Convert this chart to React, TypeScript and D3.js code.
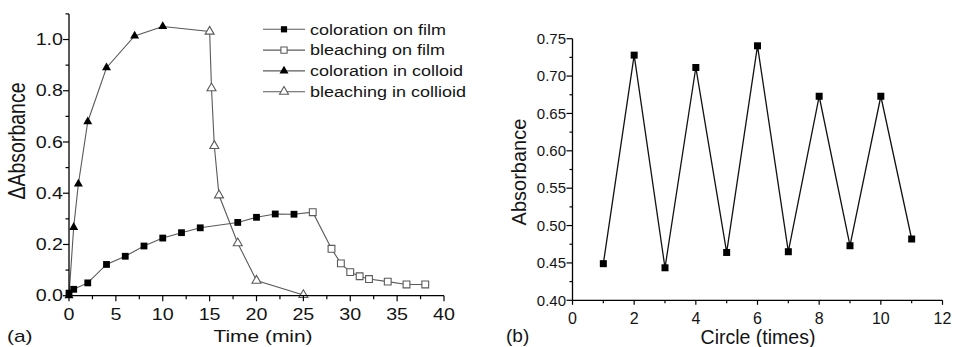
import React from "react";
import * as d3 from "d3";

// ---------- Data (panel a) ----------
const filmColorT = [0, 0.5, 2, 4, 6, 8, 10, 12, 14, 18, 20, 22, 24];
const filmColorA = [0.01, 0.025, 0.05, 0.122, 0.154, 0.194, 0.225, 0.246, 0.265, 0.286, 0.306, 0.319, 0.318];
const filmBleachT = [26, 28, 29, 30, 31, 32, 34, 36, 38];
const filmBleachA = [0.326, 0.183, 0.126, 0.092, 0.076, 0.065, 0.055, 0.044, 0.044];
const colloidColorT = [0, 0.5, 1, 2, 4, 7, 10];
const colloidColorA = [0, 0.267, 0.436, 0.679, 0.89, 1.014, 1.051];
const colloidBleachT = [15, 15.2, 15.5, 16, 18, 20, 25];
const colloidBleachA = [1.031, 0.81, 0.585, 0.392, 0.205, 0.059, 0.003];
const legendLabels = ["coloration on film", "bleaching on film", "coloration in colloid", "bleaching in collioid"];
const aXTicks = [0, 5, 10, 15, 20, 25, 30, 35, 40];
const aYTicks = [0.0, 0.2, 0.4, 0.6, 0.8, 1.0];

// ---------- Data (panel b) ----------
const cycles = [1, 2, 3, 4, 5, 6, 7, 8, 9, 10, 11];
const absorb = [0.449, 0.728, 0.4435, 0.7115, 0.464, 0.7405, 0.465, 0.673, 0.473, 0.673, 0.482];
const bXTicks = [0, 2, 4, 6, 8, 10, 12];
const bYTicks = [0.4, 0.45, 0.5, 0.55, 0.6, 0.65, 0.7, 0.75];

const FONT = "'Liberation Sans', Arial, sans-serif";
const TXT = "#141414";
const GREY = "#5a5a5a";

type P = [number, number];
const zip = (a: number[], b: number[]): P[] => a.map((v, i) => [v, b[i]]);

function T(props: { x: number; y: number; sx?: number; size: number; anchor?: string; rotate?: number; children: React.ReactNode }) {
  const { x, y, sx = 1, size, anchor = "middle", rotate = 0, children } = props;
  const tr = rotate
    ? `translate(${x},${y}) rotate(${rotate}) scale(1,${sx})`
    : `translate(${x},${y}) scale(${sx},1)`;
  return (
    <text transform={tr} fontSize={size} fontFamily={FONT} fill={TXT} textAnchor={anchor}>
      {children}
    </text>
  );
}

const sq = (s: number) => d3.symbol(d3.symbolSquare, s * s)()!;
const tri = (side: number) => d3.symbol(d3.symbolTriangle, 0.433 * side * side)()!;

function PanelA() {
  const x = d3.scaleLinear().domain([0, 40]).range([69, 444]);
  const y = d3.scaleLinear().domain([0, 1.1]).range([295.7, 13.9]);
  const line = d3.line<P>().x((d) => x(d[0])).y((d) => y(d[1]));
  const sx = 1.23;

  const fc = zip(filmColorT, filmColorA);
  const fb = zip(filmBleachT, filmBleachA);
  const cc = zip(colloidColorT, colloidColorA);
  const cb = zip(colloidBleachT, colloidBleachA);

  const xMinor = d3.range(0, 40.01, 2.5);
  const yMinor = d3.range(0, 1.101, 0.1);

  const sqPath = sq(6.8);
  const triPath = tri(9);

  return (
    <g>
      {/* lines */}
      <path d={line(cc)!} fill="none" stroke={GREY} strokeWidth={1.1} />
      <path d={line([cc[cc.length - 1], ...cb])!} fill="none" stroke={GREY} strokeWidth={1.1} />
      <path d={line(fc)!} fill="none" stroke={GREY} strokeWidth={1.1} />
      <path d={line([fc[fc.length - 1], ...fb])!} fill="none" stroke={GREY} strokeWidth={1.1} />
      {/* markers */}
      {cc.map((d, i) => (
        <path key={"cc" + i} d={triPath} transform={`translate(${x(d[0])},${y(d[1])})`} fill="#000" />
      ))}
      {cb.map((d, i) => (
        <path key={"cb" + i} d={triPath} transform={`translate(${x(d[0])},${y(d[1])})`} fill="#fff" stroke={GREY} strokeWidth={1.1} />
      ))}
      {fc.map((d, i) => (
        <path key={"fc" + i} d={sqPath} transform={`translate(${x(d[0])},${y(d[1])})`} fill="#000" />
      ))}
      {fb.map((d, i) => (
        <path key={"fb" + i} d={sqPath} transform={`translate(${x(d[0])},${y(d[1])})`} fill="#fff" stroke={GREY} strokeWidth={1.1} />
      ))}
      {/* axes */}
      <line x1={x(0)} x2={x(40)} y1={y(0)} y2={y(0)} stroke="#000" strokeWidth={1.3} />
      <line x1={x(0)} x2={x(0)} y1={y(0)} y2={y(1.1)} stroke="#000" strokeWidth={1.3} />
      {xMinor.map((v) => {
        const major = aXTicks.some((t) => Math.abs(t - v) < 1e-6);
        return <line key={"xt" + v} x1={x(v)} x2={x(v)} y1={y(0)} y2={y(0) + (major ? 5.5 : 3.5)} stroke="#000" strokeWidth={1.2} />;
      })}
      {yMinor.map((v) => {
        const major = aYTicks.some((t) => Math.abs(t - v) < 1e-6);
        return <line key={"yt" + v} x1={x(0)} x2={x(0) - (major ? 6 : 3.5)} y1={y(v)} y2={y(v)} stroke="#000" strokeWidth={1.2} />;
      })}
      {aXTicks.map((v) => (
        <T key={"xl" + v} x={x(v)} y={320} size={16} sx={sx}>{String(v)}</T>
      ))}
      {aYTicks.map((v) => (
        <T key={"yl" + v} x={63} y={y(v) + 5.7} size={16} sx={sx} anchor="end">{v.toFixed(1)}</T>
      ))}
      <T x={263} y={342} size={17} sx={sx}>Time (min)</T>
      <T x={7} y={342} size={17} sx={sx} anchor="start">(a)</T>
      <T x={24.5} y={141} size={19.5} sx={1.2} rotate={-90}>ΔAbsorbance</T>
      {/* legend */}
      {legendLabels.map((lab, i) => {
        const ly = 29.3 + i * 20.8;
        const mark = i < 2 ? sq(6.2) : tri(9);
        const filled = i % 2 === 0;
        return (
          <g key={"lg" + i}>
            <line x1={263} x2={305} y1={ly} y2={ly} stroke={GREY} strokeWidth={1.1} />
            <path d={mark} transform={`translate(284,${ly})`} fill={filled ? "#000" : "#fff"} stroke={filled ? "none" : GREY} strokeWidth={1.1} />
            <T x={310} y={ly + 5.3} size={15} sx={1.2} anchor="start">{lab}</T>
          </g>
        );
      })}
    </g>
  );
}

function PanelB() {
  const x = d3.scaleLinear().domain([0, 12]).range([572.5, 942.5]);
  const y = d3.scaleLinear().domain([0.4, 0.75]).range([300.3, 38.7]);
  const line = d3.line<P>().x((d) => x(d[0])).y((d) => y(d[1]));
  const pts = zip(cycles, absorb);
  const xMinor = d3.range(0, 12.01, 1);
  const yMinor = d3.range(0.4, 0.7501, 0.025);
  const sqPath = sq(7);
  return (
    <g>
      <path d={line(pts)!} fill="none" stroke="#111" strokeWidth={1.3} />
      {pts.map((d, i) => (
        <path key={"b" + i} d={sqPath} transform={`translate(${x(d[0])},${y(d[1])})`} fill="#000" />
      ))}
      <line x1={x(0)} x2={x(12)} y1={y(0.4)} y2={y(0.4)} stroke="#000" strokeWidth={1.3} />
      <line x1={x(0)} x2={x(0)} y1={y(0.4)} y2={y(0.75)} stroke="#000" strokeWidth={1.3} />
      {xMinor.map((v) => {
        const major = bXTicks.includes(Math.round(v)) && Math.round(v) % 2 === 0;
        return <line key={"bx" + v} x1={x(v)} x2={x(v)} y1={y(0.4)} y2={y(0.4) + (major ? 4.5 : 3)} stroke="#000" strokeWidth={1.2} />;
      })}
      {yMinor.map((v, i) => (
        <line key={"by" + i} x1={x(0)} x2={x(0) - (i % 2 === 0 ? 6 : 3)} y1={y(v)} y2={y(v)} stroke="#000" strokeWidth={1.2} />
      ))}
      {bXTicks.map((v) => (
        <T key={"bxl" + v} x={x(v)} y={323.5} size={16}>{String(v)}</T>
      ))}
      {bYTicks.map((v) => (
        <T key={"byl" + v} x={566} y={y(v) + 5.3} size={15} anchor="end">{v.toFixed(2)}</T>
      ))}
      <T x={758} y={343.5} size={19.5}>Circle (times)</T>
      <T x={506} y={342} size={19} anchor="start">(b)</T>
      <T x={525.5} y={172} size={20} rotate={-90}>Absorbance</T>
    </g>
  );
}

export default function App() {
  return (
    <svg width={959} height={347} style={{ position: "absolute", left: 0, top: 0, background: "#fff" }}>
      <rect width={959} height={347} fill="#fff" />
      <PanelA />
      <PanelB />
    </svg>
  );
}
